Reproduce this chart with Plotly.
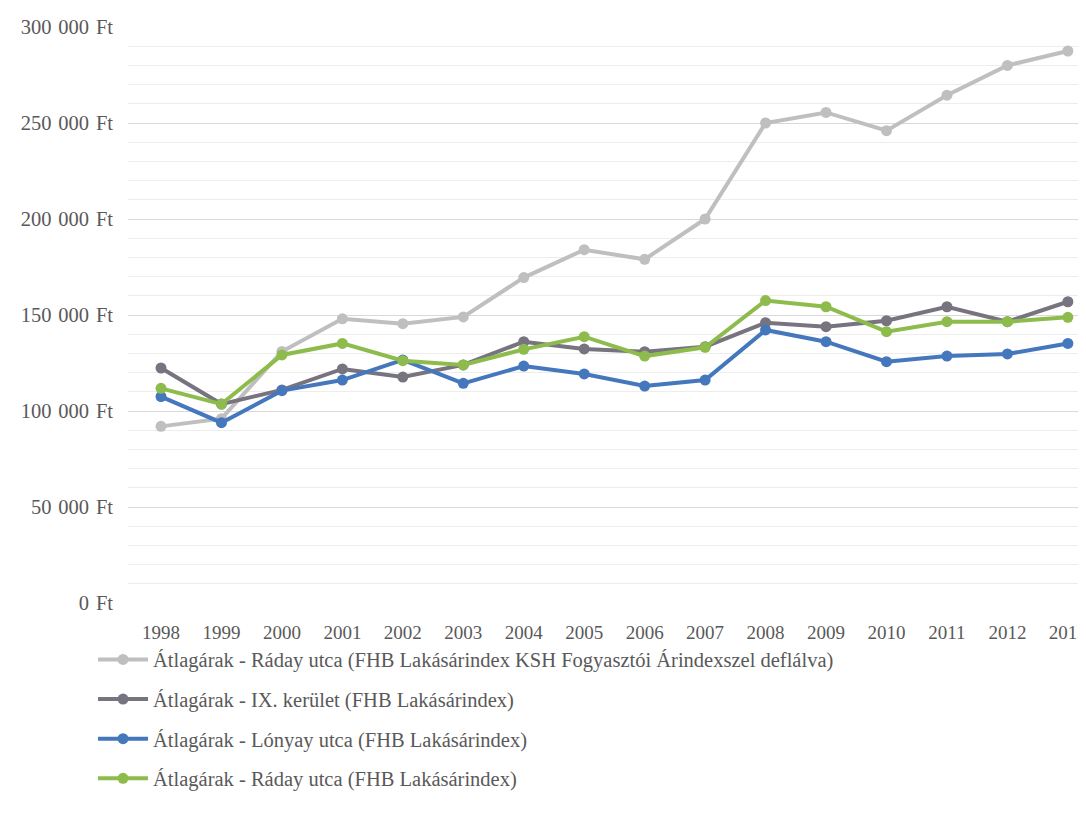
import plotly.graph_objects as go

years = ["1998", "1999", "2000", "2001", "2002", "2003", "2004", "2005",
         "2006", "2007", "2008", "2009", "2010", "2011", "2012", "2013"]

raday_deflated = [92000, 96000, 131000, 148000, 145500, 149000, 169500, 184000,
                  179000, 200000, 250000, 255500, 246000, 264500, 280000, 287500]
ix_kerulet = [122400, 103600, 111000, 121900, 117700, 124000, 136100, 132300,
              130900, 133500, 146000, 143900, 147000, 154300, 146500, 156900]
lonyay = [107500, 93900, 110600, 116100, 126600, 114400, 123400, 119300,
          113000, 116100, 142200, 136100, 125700, 128600, 129700, 135200]
raday_fhb = [111800, 103600, 129200, 135200, 126200, 124000, 132100, 138700,
             128600, 133200, 157500, 154300, 141300, 146500, 146500, 148800]

y_tick_values = [0, 50000, 100000, 150000, 200000, 250000, 300000]
y_tick_labels = ["0\u2004Ft", "50\u2004000\u2004Ft", "100\u2004000\u2004Ft",
                 "150\u2004000\u2004Ft", "200\u2004000\u2004Ft",
                 "250\u2004000\u2004Ft", "300\u2004000\u2004Ft"]

names = [
    "Átlagárak - Ráday utca (FHB Lakásárindex KSH Fogyasztói Árindexszel deflálva)",
    "Átlagárak - IX. kerület (FHB Lakásárindex)",
    "Átlagárak - Lónyay utca (FHB Lakásárindex)",
    "Átlagárak - Ráday utca (FHB Lakásárindex)",
]
series = [raday_deflated, ix_kerulet, lonyay, raday_fhb]
colors = ["#BFBFBF", "#77737F", "#4577BD", "#8DBC4C"]

FONT = "Liberation Serif"
TXT = "#595959"

fig = go.Figure()
for i, (nm, vals, c) in enumerate(zip(names, series, colors)):
    fig.add_trace(go.Scatter(
        x=years, y=vals, name=nm, mode="lines+markers",
        line=dict(color=c, width=4),
        marker=dict(color=c, size=11),
        legendgroup=str(i),
    ))

fig.update_layout(
    width=1078, height=818,
    margin=dict(l=120, r=0, t=18, b=223),
    paper_bgcolor="white", plot_bgcolor="white",
    font=dict(family=FONT, size=19, color=TXT),
    showlegend=True,
    legend=dict(
        orientation="v", x=-0.0365, xanchor="left", y=-0.0634, yanchor="top",
        font=dict(family=FONT, size=20.5, color=TXT),
        itemwidth=50, tracegroupgap=10, bgcolor="rgba(0,0,0,0)",
    ),
)
fig.update_xaxes(
    type="category", range=[-0.546, 15.30],
    showgrid=False, zeroline=False, showline=False,
    ticks="", ticklabelstandoff=16, automargin=False,
    tickfont=dict(family=FONT, size=19, color=TXT),
)
fig.update_yaxes(
    range=[0, 300520], tickvals=y_tick_values, ticktext=y_tick_labels,
    showgrid=True, gridcolor="#D9D9D9", gridwidth=1,
    minor=dict(dtick=10000, showgrid=True, gridcolor="#EDEDED", gridwidth=1),
    zeroline=False, showline=False, ticks="", ticklabelstandoff=14, automargin=False,
    tickfont=dict(family=FONT, size=20.5, color=TXT),
)

fig.write_html("out.html")
